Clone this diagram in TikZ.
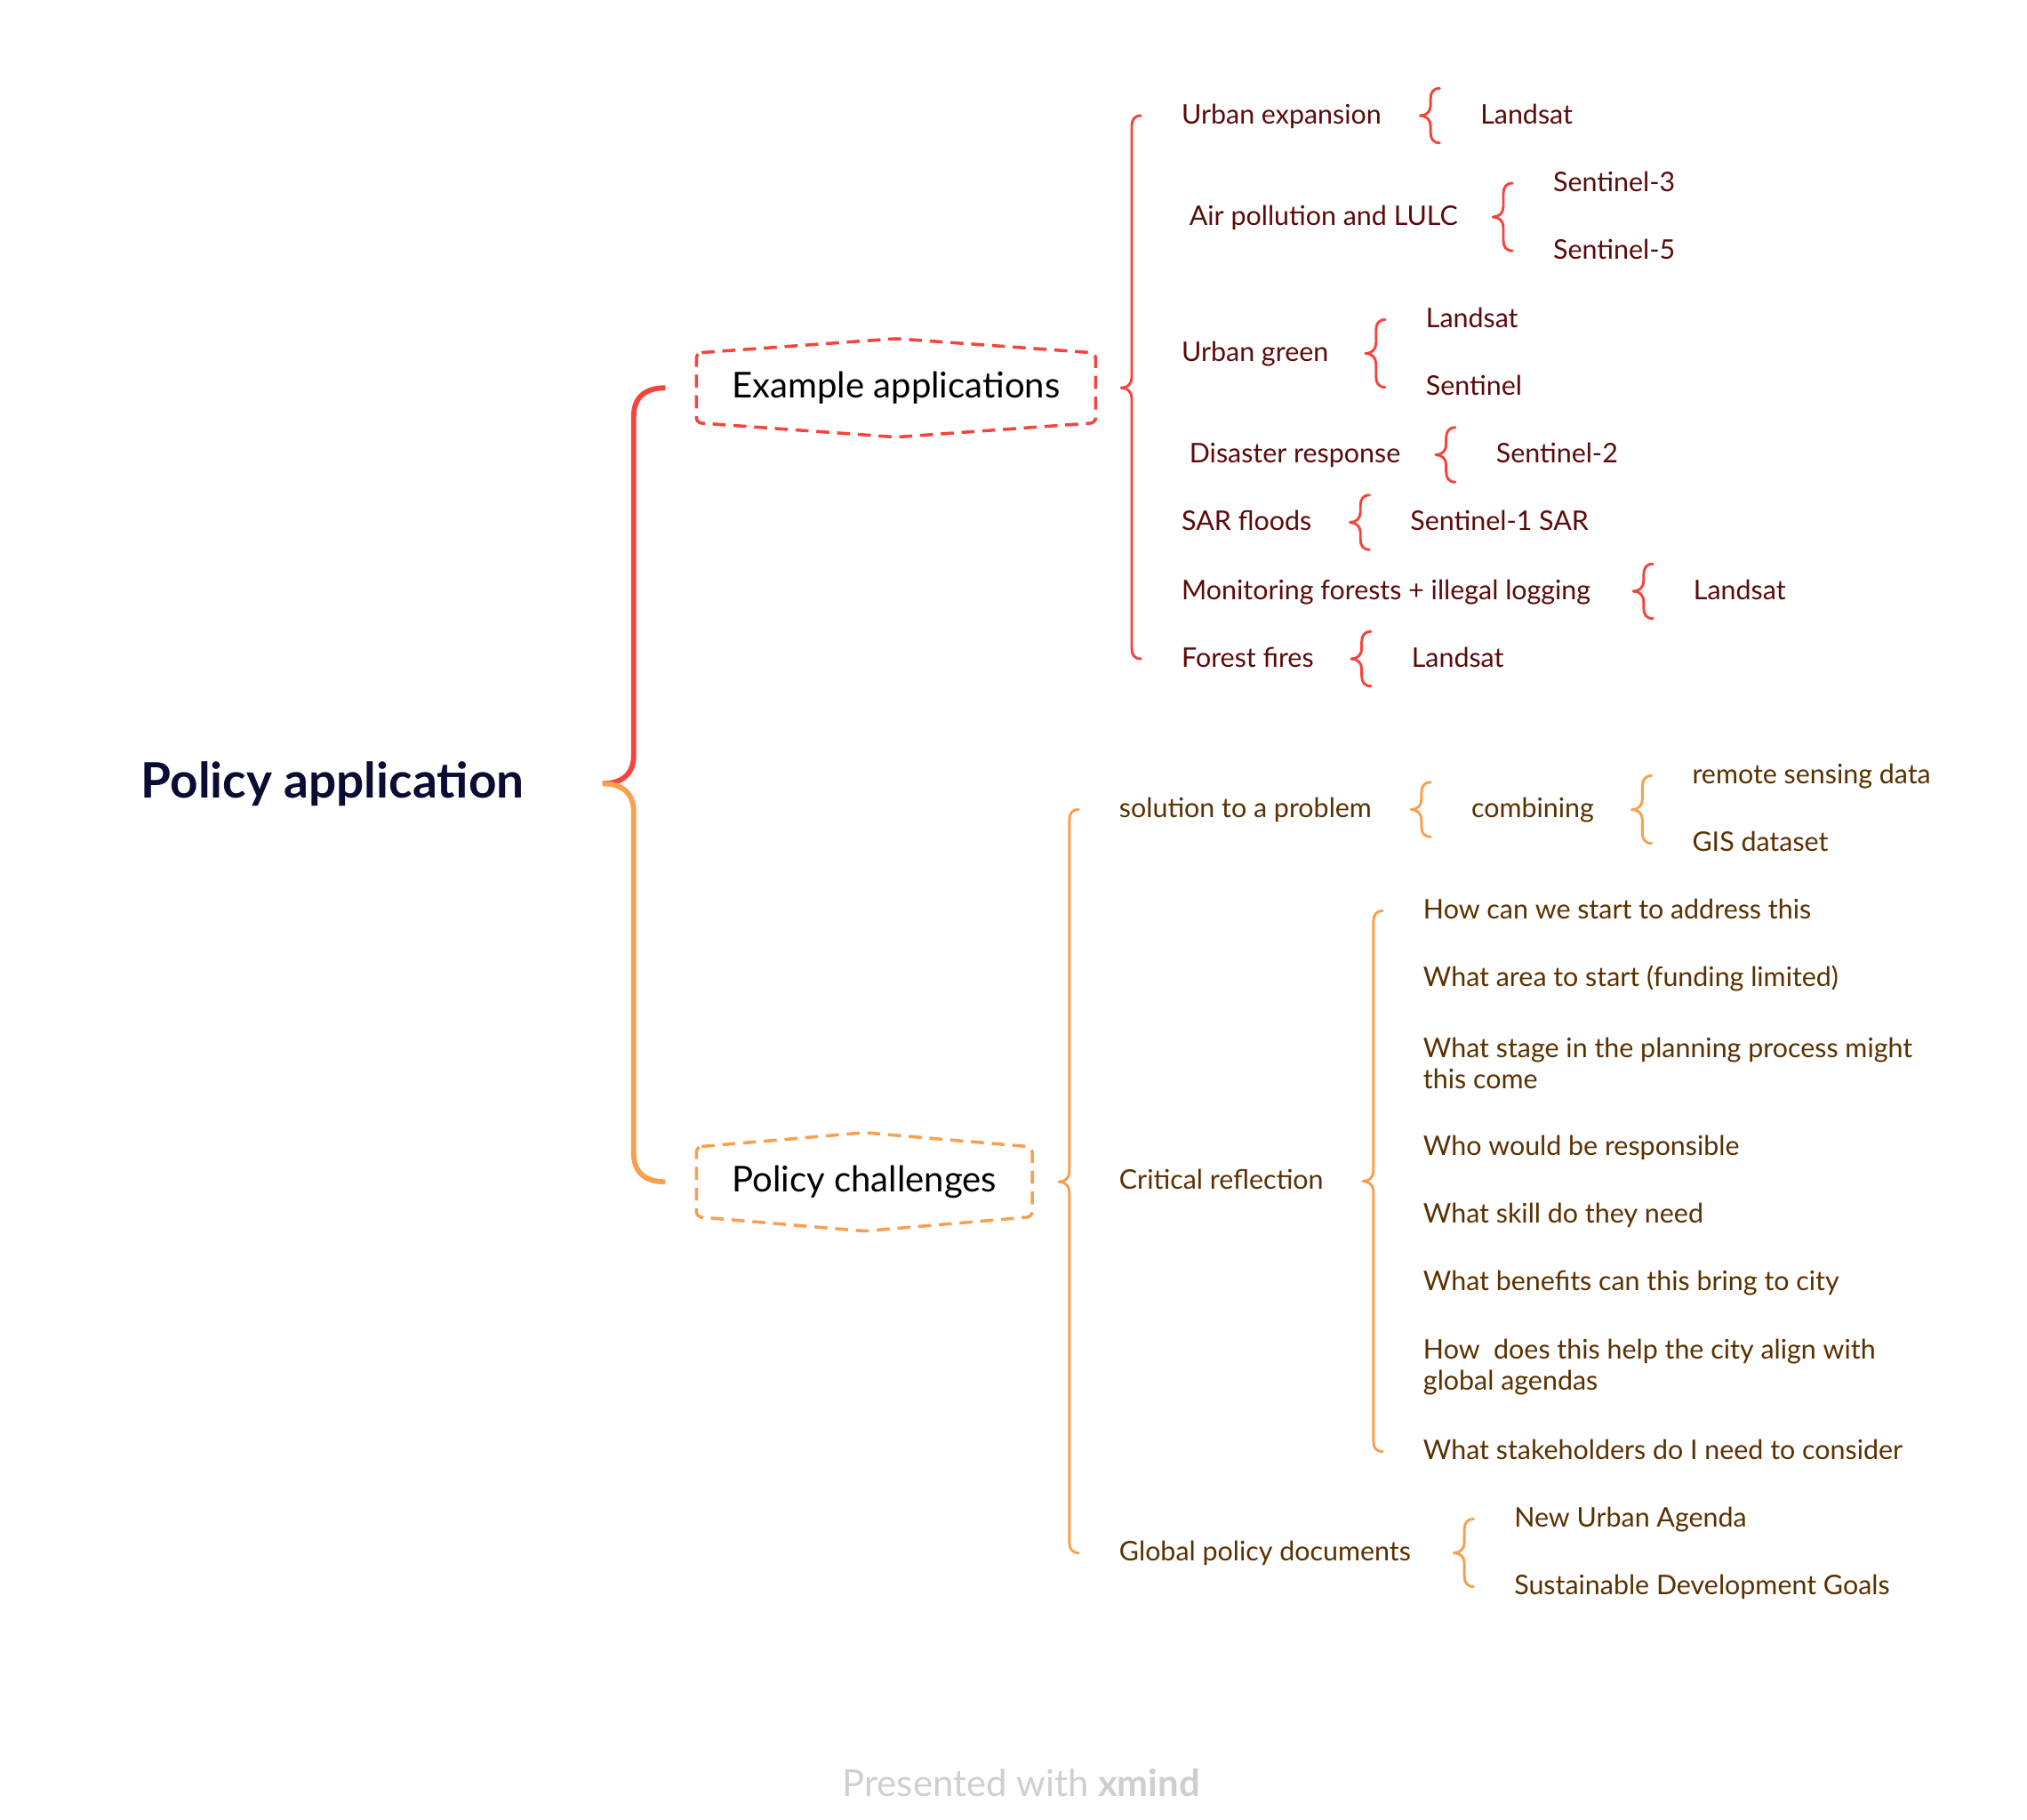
\documentclass[tikz,border=0pt]{standalone}
\usepackage{fontspec}
\setmainfont{Lato}
\usetikzlibrary{calc}

\definecolor{redline}{HTML}{F5443D}
\definecolor{redtext}{HTML}{5C0A0A}
\definecolor{orangeline}{HTML}{F7A04F}
\definecolor{orangetext}{HTML}{5A3000}
\definecolor{roottext}{HTML}{0B0B33}
\definecolor{footgray}{HTML}{CFCFCF}

\tikzset{
  item/.style={anchor=west, inner sep=0pt, font=\fontsize{10.4}{12}\selectfont,
    text height=1.5ex, text depth=.25ex},
  redtopic/.style={item, text=redtext},
  orangetopic/.style={item, text=orangetext},
  wraptopic/.style={anchor=west, inner sep=0pt, align=left,
    font=\fontsize{10.4}{12}\selectfont, text=orangetext},
  hexbox/.style={anchor=west, inner xsep=13.5pt, inner ysep=0pt,
    minimum height=26.5pt, font=\fontsize{13.7}{16}\selectfont},
  hexline/.style={line width=1.2pt, dash pattern=on 5pt off 3pt, rounded corners=2pt},
  brace/.style={line width=1pt, line cap=round},
}

% half of a brace, from the tip beside the parent to one child
\newcommand{\halfbrace}[4]{%
  \draw[brace,#1] let \p1=(#2.east), \p2=(#3.west),
      \p3=(\x2-23pt,\y1), \p4=(\x2-15.5pt,\y2+#4),
      \n1={ifthenelse(\y4>\y3,1,-1)} in
    (\p3) .. controls ({\x3+2.4pt},\y3) and ({\x3+4pt},{\y3+\n1*1.6pt}) .. ({\x3+4pt},{\y3+\n1*4pt})
    -- ({\x3+4pt},{\y4-\n1*4pt})
    .. controls ({\x3+4pt},{\y4-\n1*1.6pt}) and ({\x3+5pt},\y4) .. (\p4);}
% brace over two or more children
\newcommand{\xbrace}[4]{\halfbrace{#1}{#2}{#3}{0pt}\halfbrace{#1}{#2}{#4}{0pt}}
% brace round a single child
\newcommand{\onebrace}[3]{\halfbrace{#1}{#2}{#3}{10.5pt}\halfbrace{#1}{#2}{#3}{-10.5pt}}

\begin{document}
\begin{tikzpicture}[x={(0.5pt,0)}, y={(0,-0.5pt)}]
    \useasboundingbox (0,0) rectangle (1560,1400);

    % Root and main topics
    \node[inner sep=0pt, text=roottext, font=\fontsize{18.8}{22}\selectfont\bfseries] (root) at (256,603) {Policy application};
    \node[hexbox] (examples) at (536,298.5) {Example applications};
    \node[hexbox] (challenges) at (536,909.5) {Policy challenges};

    % Dashed frames
    \draw[hexline, redline] (examples.north west) -- ($(examples.north)+(0,5.5pt)$) -- (examples.north east)
        -- (examples.south east) -- ($(examples.south)+(0,-5.5pt)$) -- (examples.south west) -- cycle;
    \draw[hexline, orangeline] (challenges.north west) -- ($(challenges.north)+(0,5.5pt)$) -- (challenges.north east)
        -- (challenges.south east) -- ($(challenges.south)+(0,-5.5pt)$) -- (challenges.south west) -- cycle;

    % Root brace, red half and orange half
    \draw[line width=2pt, redline] let \p1=(root.east), \p2=(examples.west), \p3=(\x1+30pt,\y1), \p4=(\x2-12pt,\y2) in
        (\p3) .. controls (\x3+8pt,\y3) and (\x3+12pt,\y3+4pt) .. (\x3+12pt,\y3+11pt) -- (\x3+12pt,\y4-11pt)
        .. controls (\x3+12pt,\y4-4pt) and (\x3+16pt,\y4) .. (\p4);
    \draw[line width=2pt, orangeline] let \p1=(root.east), \p2=(challenges.west), \p3=(\x1+30pt,\y1), \p4=(\x2-12pt,\y2) in
        (\p3) .. controls (\x3+8pt,\y3) and (\x3+12pt,\y3-4pt) .. (\x3+12pt,\y3-11pt) -- (\x3+12pt,\y4+11pt)
        .. controls (\x3+12pt,\y4+4pt) and (\x3+16pt,\y4) .. (\p4);

    % Example applications
    \node[redtopic] (urbexp) at (909,89) {Urban expansion};
    \node[redtopic] (lsA) at (1139,89) {Landsat};
    \node[redtopic] (airpol) at (915,167) {Air pollution and LULC};
    \node[redtopic] (sentA) at (1195,141) {Sentinel-3};
    \node[redtopic] (sentB) at (1195,193) {Sentinel-5};
    \node[redtopic] (urbgreen) at (909,272) {Urban green};
    \node[redtopic] (lsB) at (1097,246) {Landsat};
    \node[redtopic] (sentC) at (1097,298) {Sentinel};
    \node[redtopic] (disaster) at (915,350) {Disaster response};
    \node[redtopic] (sentD) at (1151,350) {Sentinel-2};
    \node[redtopic] (sarflood) at (909,402) {SAR floods};
    \node[redtopic] (sentE) at (1085,402) {Sentinel-1 SAR};
    \node[redtopic] (forests) at (909,455) {Monitoring forests + illegal logging};
    \node[redtopic] (lsC) at (1303,455) {Landsat};
    \node[redtopic] (fires) at (909,507) {Forest fires};
    \node[redtopic] (lsD) at (1086,507) {Landsat};

    \xbrace{redline}{examples}{urbexp}{fires}
    \onebrace{redline}{urbexp}{lsA}
    \xbrace{redline}{airpol}{sentA}{sentB}
    \xbrace{redline}{urbgreen}{lsB}{sentC}
    \onebrace{redline}{disaster}{sentD}
    \onebrace{redline}{sarflood}{sentE}
    \onebrace{redline}{forests}{lsC}
    \onebrace{redline}{fires}{lsD}

    % Policy challenges
    \node[orangetopic] (solution) at (861,623) {solution to a problem};
    \node[orangetopic] (combining) at (1132,623) {combining};
    \node[orangetopic] (rsdata) at (1302,597) {remote sensing data};
    \node[orangetopic] (gis) at (1302,649) {GIS dataset};
    \node[orangetopic] (critical) at (861,909) {Critical reflection};
    \node[orangetopic] (qA) at (1095,701) {How can we start to address this};
    \node[orangetopic] (qB) at (1095,753) {What area to start (funding limited)};
    \node[wraptopic] (qC) at (1095,818) {What stage in the planning process might\\this come};
    \node[orangetopic] (qD) at (1095,883) {Who would be responsible};
    \node[orangetopic] (qE) at (1095,935) {What skill do they need};
    \node[orangetopic] (qF) at (1095,987) {What benefits can this bring to city};
    \node[wraptopic] (qG) at (1095,1052) {How\ \ does this help the city align with\\global agendas};
    \node[orangetopic] (qH) at (1095,1117) {What stakeholders do I need to consider};
    \node[orangetopic] (global) at (861,1195) {Global policy documents};
    \node[orangetopic] (nua) at (1165,1169) {New Urban Agenda};
    \node[orangetopic] (sdg) at (1165,1221) {Sustainable Development Goals};

    \xbrace{orangeline}{challenges}{solution}{global}
    \onebrace{orangeline}{solution}{combining}
    \xbrace{orangeline}{combining}{rsdata}{gis}
    \xbrace{orangeline}{critical}{qA}{qH}
    \xbrace{orangeline}{global}{nua}{sdg}

    % Footer
    \node[text=footgray, font=\fontsize{14.3}{17}\selectfont] (footer) at (786,1372) {Presented with \textbf{xmind}};
\end{tikzpicture}
\end{document}
